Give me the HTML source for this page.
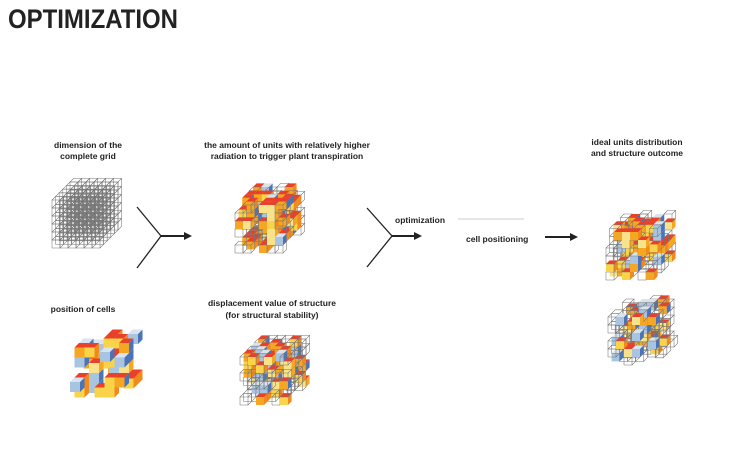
<!DOCTYPE html>
<html><head><meta charset="utf-8"><style>
html,body{margin:0;padding:0;background:#fff;}
svg{display:block;}
text{font-family:"Liberation Sans",sans-serif;font-weight:bold;fill:#222;}
</style></head><body>
<svg id="s" width="730" height="457" viewBox="0 0 730 457" xmlns="http://www.w3.org/2000/svg">
<text x="8" y="28" font-size="27" textLength="170" lengthAdjust="spacingAndGlyphs" fill="#1a1a1a">OPTIMIZATION</text>
<g font-size="8.5" text-anchor="middle">
<text x="88" y="148">dimension of the</text>
<text x="88" y="159">complete grid</text>
<text x="287" y="148">the amount of units with relatively higher</text>
<text x="287" y="159">radiation to trigger plant transpiration</text>
<text x="637" y="145">ideal units distribution</text>
<text x="637" y="156">and structure outcome</text>
<text x="83" y="312">position of cells</text>
<text x="272" y="306">displacement value of structure</text>
<text x="272" y="318">(for structural stability)</text>
</g>
<g font-size="8.5">
<text x="395" y="223">optimization</text>
<text x="466" y="242">cell positioning</text>
</g>
<g stroke="#222" stroke-width="1.3" fill="none">
<path d="M137 207 L161 236 L137 268"/>
<path d="M161 236 L186 236" stroke-width="2"/>
<path d="M367 208 L392 236 L367 267"/>
<path d="M392 236 L416 236" stroke-width="2"/>
<path d="M545 237 L572 237" stroke-width="2"/>
</g>
<path d="M458 219 L524 219" stroke="#ccc" stroke-width="1"/>
<g fill="#222">
<path d="M192 236 L184 232 L184 240Z"/>
<path d="M422 236 L414 232 L414 240Z"/>
<path d="M578 237 L570 233 L570 241Z"/>
</g>
<g id="g"></g>
</svg>
<script>
var g=document.getElementById('g'),out='';
var seed=7;function r(){seed=(seed*9301+49297)%233280;return seed/233280;}
function cube(x,y,s,faces){
 var d=s*0.45;
 var front='M'+x+' '+y+' h'+s+' v'+(-s)+' h'+(-s)+'Z';
 var top='M'+x+' '+(y-s)+' l'+d+' '+(-d)+' h'+s+' l'+(-d)+' '+d+'Z';
 var side='M'+(x+s)+' '+y+' l'+d+' '+(-d)+' v'+(-s)+' l'+(-d)+' '+d+'Z';
 if(faces){
  out+='<path d="'+front+'" fill="'+faces[0]+'"/><path d="'+side+'" fill="'+faces[1]+'"/><path d="'+top+'" fill="'+faces[2]+'"/>';
 } else {
  out+='<path d="'+front+top+side+'" fill="none" stroke="#777" stroke-width="0.55"/>';
 }
}
var pal=[["#f5a623","#f08a1c","#e8402a"],["#f9d34a","#f08a1c","#e8402a"],["#f5a623","#4a73b8","#e8402a"],["#f9e38a","#f5a623","#e8402a"],["#a9c4e0","#4a73b8","#d9e3ee"]];
function grid(x0,y0,n,s,fill,prob){
 for(var k=n-1;k>=0;k--)for(var j=0;j<n;j++)for(var i=0;i<n;i++){
  var x=x0+i*s+k*s*0.45,y=y0+(n-j)*s-k*s*0.45;
  if(fill){var q=r();if(q<prob)cube(x,y,s,pal[Math.floor(r()*pal.length)]);else if(q<prob+0.35)cube(x,y,s);}
  else cube(x,y,s);
 }
}
grid(52,200,6,8,false);
seed=3;grid(235,205,6,8,true,0.3);
seed=11;grid(606,232,6,8,true,0.28);
seed=5;grid(608,317,6,8,true,0.22);
seed=9;grid(240,357,6,8,true,0.28);
seed=17;
for(var k=4;k>=0;k--)for(var j=0;j<5;j++)for(var i=0;i<5;i++){
 if(r()<0.3){var s=10;cube(70+i*s+k*4.5,402-j*s-k*4.5,s,pal[Math.floor(r()*pal.length)]);}
}
g.innerHTML=out;
</script>
</body></html>
